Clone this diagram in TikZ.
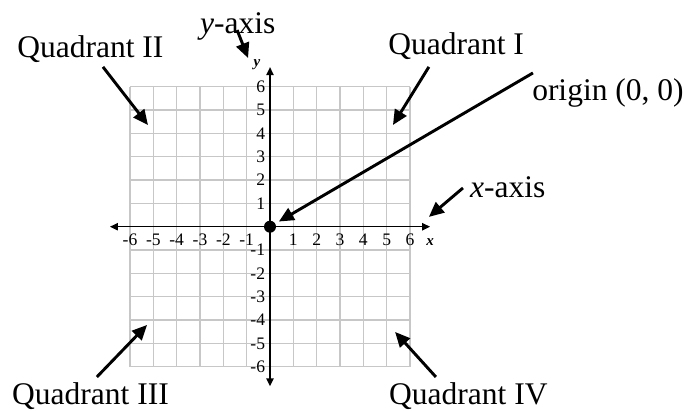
\documentclass[tikz,border=0pt]{standalone}
\usepackage{fontspec}
\setmainfont{Liberation Serif}
\usetikzlibrary{arrows.meta}

\begin{document}
\begin{tikzpicture}[x=0.7cm, y=0.7cm,
  gridline/.style={draw=black!22, line width=1pt},
  axisline/.style={line width=1.3pt, {Triangle[length=0.24cm, width=0.22cm]}-{Triangle[length=0.24cm, width=0.22cm]}},
  callout/.style={line width=2.5pt, -{Triangle[length=0.45cm, width=0.4cm]}},
  lbl/.style={inner sep=0pt, anchor=base west, font=\fontsize{26.9}{30}\selectfont},
  tick/.style={inner sep=0pt, font=\fontsize{15}{17}\selectfont},
  axname/.style={inner sep=0pt, font=\fontsize{12.8}{14}\selectfont\bfseries\itshape}]

% frame of the whole picture, origin of the plane at (0,0)
\useasboundingbox (-11.573,-7.857) rectangle (17.83,9.717);

% light grid, 6 squares each way
\foreach \k in {-6,...,6} {
  \draw[gridline] (\k,-6) -- (\k,6);
  \draw[gridline] (-6,\k) -- (6,\k);
}

% axes with small heads at both ends
\coordinate (xl) at (-6.86,0);
\coordinate (xr) at (6.86,0);
\coordinate (yb) at (0,-6.84);
\coordinate (yt) at (0,6.84);
\draw[axisline] (xl) -- (xr);
\draw[axisline] (yb) -- (yt);
\node[axname] (xname) at (6.86,-0.66) {x};
\node[axname] (yname) at (-0.56,6.93) {y};

% tick numbers (no 0)
\foreach \k in {-6,...,-1,1,2,...,6} {
  \node[tick] (x\k) at (\k,-0.57) {\k};
  \node[tick, anchor=east] (y\k) at (-0.2,\k) {\k};
}

% the origin
\node[circle, fill=black, inner sep=0pt, minimum size=0.36cm] (O) at (0,0) {};

% ---- labels ----
\node[lbl] (yax) at (-3.0,8.30) {\textit{y}-axis};
\node[lbl] (xax) at (8.57,1.27) {\textit{x}-axis};
\node[lbl] (q2) at (-10.84,7.25) {Quadrant II};
\node[lbl] (q1) at (5.06,7.36) {Quadrant I};
\node[lbl] (orig) at (11.23,5.43) {origin (0, 0)};
\node[lbl] (q3) at (-11.06,-7.62) {Quadrant III};
\node[lbl] (q4) at (5.10,-7.62) {Quadrant IV};

% ---- pointers ----
% tails
\coordinate (yaxs) at (-1.41,8.43);
\coordinate (xaxs) at (8.27,1.66);
\coordinate (q2s) at (-7.16,6.85);
\coordinate (q1s) at (6.81,6.85);
\coordinate (origs) at (11.27,6.59);
\coordinate (q3s) at (-7.42,-6.44);
\coordinate (q4s) at (7.11,-6.44);
% heads
\coordinate (yaxt) at (-0.94,7.23);
\coordinate (xaxt) at (6.81,0.42);
\coordinate (q2t) at (-5.23,4.36);
\coordinate (q1t) at (5.27,4.36);
\coordinate (q3t) at (-5.27,-4.21);
\coordinate (q4t) at (5.36,-4.51);

\draw[callout] (yaxs) -- (yaxt);
\draw[callout] (xaxs) -- (xaxt);
\draw[callout] (q2s) -- (q2t);
\draw[callout] (q1s) -- (q1t);
\draw[callout, shorten >=0.12cm] (origs) -- (O);
\draw[callout] (q3s) -- (q3t);
\draw[callout] (q4s) -- (q4t);

\end{tikzpicture}
\end{document}
